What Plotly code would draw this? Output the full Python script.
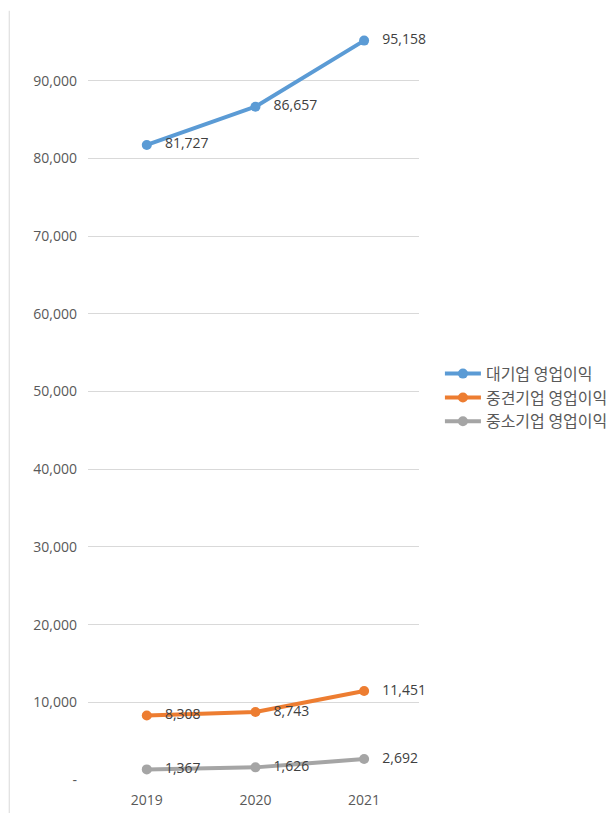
import plotly.graph_objects as go

years = ['2019', '2020', '2021']
large = [81727, 86657, 95158]
midsize = [8308, 8743, 11451]
small = [1367, 1626, 2692]
series_names = ['대기업 영업이익', '중견기업 영업이익', '중소기업 영업이익']
y_ticks = [0, 10000, 20000, 30000, 40000, 50000, 60000, 70000, 80000, 90000]
y_tick_text = ['-'] + [f'{v:,}' for v in y_ticks[1:]]

colors = ['#5B9BD5', '#ED7D31', '#A5A5A5']
pad = '\u00a0' * 3  # push data labels away from the markers

fig = go.Figure()
for name, vals, col in zip(series_names, [large, midsize, small], colors):
    fig.add_trace(go.Scatter(
        x=years, y=vals, name=name,
        mode='lines+markers+text',
        line=dict(color=col, width=4),
        marker=dict(color=col, size=10),
        text=[pad + f'{v:,}' for v in vals],
        textposition='middle right',
        textfont=dict(family='Open Sans, Noto Sans', size=14, color='#404040'),
        cliponaxis=False,
    ))

fig.update_layout(
    width=615, height=813,
    margin=dict(l=88, r=195, t=3, b=33),
    plot_bgcolor='white', paper_bgcolor='white',
    font=dict(family='Open Sans, Noto Sans', color='#595959', size=14),
    legend=dict(
        x=1.06, y=0.492, xanchor='left', yanchor='middle',
        font=dict(family='Noto Sans CJK KR', size=16, color='#595959'),
        itemwidth=36,
    ),
    shapes=[dict(type='line', xref='paper', yref='paper',
                 x0=(9 - 88) / 332, x1=(9 - 88) / 332, y0=-33 / 777, y1=0.99,
                 line=dict(color='#D9D9D9', width=1))],
)
fig.update_xaxes(type='category', range=[-0.541, 2.505], showgrid=False,
                 showline=False, zeroline=False, ticks='', ticklabelstandoff=10)
fig.update_yaxes(range=[0, 100000], tickvals=y_ticks, ticktext=y_tick_text,
                 showgrid=True, gridcolor='#D9D9D9', gridwidth=1,
                 zeroline=False, showline=False, ticks='', ticklabelstandoff=10)

fig.write_html('out.html', config={'displayModeBar': False},
               post_script="document.body.style.margin='0';")
